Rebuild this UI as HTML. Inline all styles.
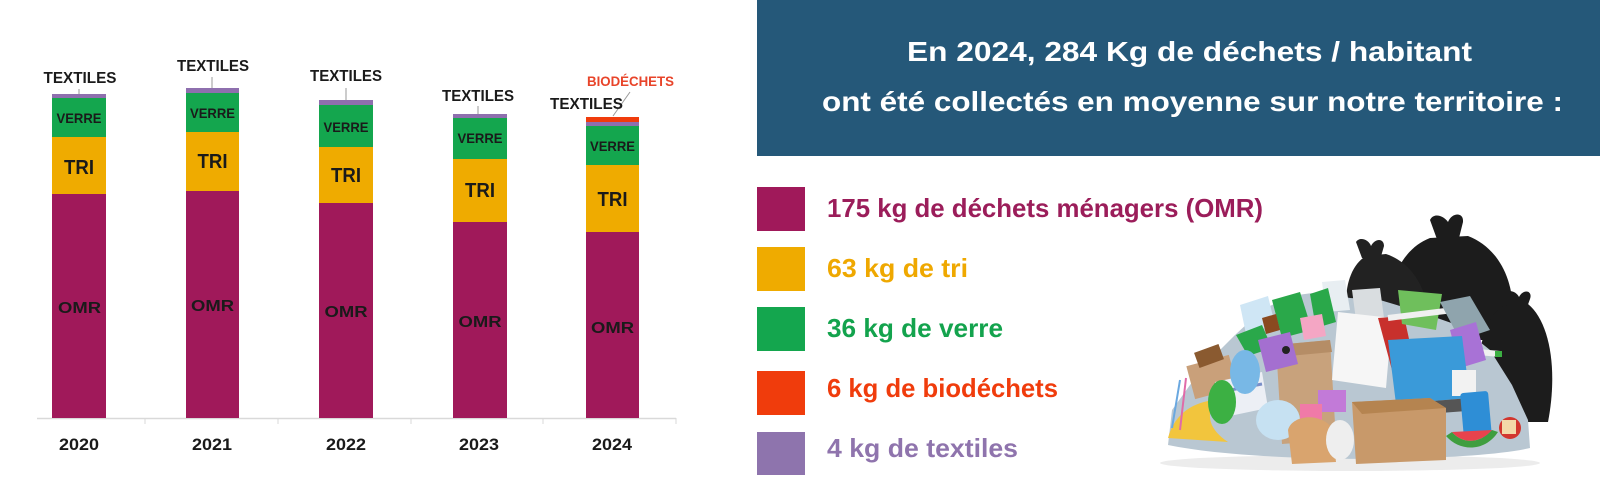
<!DOCTYPE html>
<html><head><meta charset="utf-8"><style>
html,body{margin:0;padding:0;background:#fff;}
svg{display:block;}
text{font-family:"Liberation Sans",sans-serif;font-weight:bold;}
</style></head><body>
<svg width="1600" height="500" viewBox="0 0 1600 500" xmlns="http://www.w3.org/2000/svg">
<rect width="1600" height="500" fill="#fff"/>

<!-- axis -->
<line x1="37" y1="418.5" x2="676" y2="418.5" stroke="#d9d9d9" stroke-width="1.5"/>
<g stroke="#d9d9d9" stroke-width="1">
<line x1="145" y1="418" x2="145" y2="424"/><line x1="278" y1="418" x2="278" y2="424"/>
<line x1="411" y1="418" x2="411" y2="424"/><line x1="543" y1="418" x2="543" y2="424"/>
<line x1="676" y1="418" x2="676" y2="424"/>
</g>

<!-- bars -->
<g>
<rect x="52" y="94" width="54" height="4" fill="#8e6fae"/>
<rect x="52" y="98" width="54" height="39" fill="#14a64e"/>
<rect x="52" y="137" width="54" height="57" fill="#efab00"/>
<rect x="52" y="194" width="54" height="224" fill="#a0195a"/>

<rect x="186" y="88" width="53" height="5" fill="#8e6fae"/>
<rect x="186" y="93" width="53" height="39" fill="#14a64e"/>
<rect x="186" y="132" width="53" height="59" fill="#efab00"/>
<rect x="186" y="191" width="53" height="227" fill="#a0195a"/>

<rect x="319" y="100" width="54" height="5" fill="#8e6fae"/>
<rect x="319" y="105" width="54" height="42" fill="#14a64e"/>
<rect x="319" y="147" width="54" height="56" fill="#efab00"/>
<rect x="319" y="203" width="54" height="215" fill="#a0195a"/>

<rect x="453" y="114" width="54" height="4" fill="#8e6fae"/>
<rect x="453" y="118" width="54" height="41" fill="#14a64e"/>
<rect x="453" y="159" width="54" height="63" fill="#efab00"/>
<rect x="453" y="222" width="54" height="196" fill="#a0195a"/>

<rect x="586" y="117" width="53" height="5" fill="#f03c0c"/>
<rect x="586" y="122" width="53" height="4" fill="#8e6fae"/>
<rect x="586" y="126" width="53" height="39" fill="#14a64e"/>
<rect x="586" y="165" width="53" height="67" fill="#efab00"/>
<rect x="586" y="232" width="53" height="186" fill="#a0195a"/>
</g>

<!-- in-bar labels -->
<g fill="#1a1a1a" text-anchor="middle">
<text x="79" y="123" font-size="14" textLength="45" lengthAdjust="spacingAndGlyphs">VERRE</text>
<text x="79" y="174" font-size="20" textLength="30" lengthAdjust="spacingAndGlyphs">TRI</text>
<text x="79.5" y="313" font-size="16" textLength="43" lengthAdjust="spacingAndGlyphs">OMR</text>

<text x="212.5" y="118" font-size="14" textLength="45" lengthAdjust="spacingAndGlyphs">VERRE</text>
<text x="212.5" y="168" font-size="20" textLength="30" lengthAdjust="spacingAndGlyphs">TRI</text>
<text x="212.5" y="311" font-size="16" textLength="43" lengthAdjust="spacingAndGlyphs">OMR</text>

<text x="346" y="132" font-size="14" textLength="45" lengthAdjust="spacingAndGlyphs">VERRE</text>
<text x="346" y="182" font-size="20" textLength="30" lengthAdjust="spacingAndGlyphs">TRI</text>
<text x="346" y="317" font-size="16" textLength="43" lengthAdjust="spacingAndGlyphs">OMR</text>

<text x="480" y="143" font-size="14" textLength="45" lengthAdjust="spacingAndGlyphs">VERRE</text>
<text x="480" y="197" font-size="20" textLength="30" lengthAdjust="spacingAndGlyphs">TRI</text>
<text x="480" y="327" font-size="16" textLength="43" lengthAdjust="spacingAndGlyphs">OMR</text>

<text x="612.5" y="151" font-size="14" textLength="45" lengthAdjust="spacingAndGlyphs">VERRE</text>
<text x="612.5" y="206" font-size="20" textLength="30" lengthAdjust="spacingAndGlyphs">TRI</text>
<text x="612.5" y="333" font-size="16" textLength="43" lengthAdjust="spacingAndGlyphs">OMR</text>
</g>

<!-- leader lines -->
<g stroke="#9a9a9a" stroke-width="1">
<line x1="79" y1="89" x2="79" y2="94"/>
<line x1="212" y1="77" x2="212" y2="88"/>
<line x1="346" y1="88" x2="346" y2="100"/>
<line x1="478" y1="106" x2="478" y2="114"/>
<line x1="630" y1="92" x2="613" y2="116"/>
</g>

<!-- top labels -->
<g fill="#1a1a1a" text-anchor="middle" font-size="16">
<text x="80" y="83" textLength="73" lengthAdjust="spacingAndGlyphs">TEXTILES</text>
<text x="213" y="71" textLength="72" lengthAdjust="spacingAndGlyphs">TEXTILES</text>
<text x="346" y="81" textLength="72" lengthAdjust="spacingAndGlyphs">TEXTILES</text>
<text x="478" y="101" textLength="72" lengthAdjust="spacingAndGlyphs">TEXTILES</text>
<text x="586.5" y="109" textLength="73" lengthAdjust="spacingAndGlyphs">TEXTILES</text>
</g>
<text x="630.5" y="86" text-anchor="middle" font-size="14" fill="#e8442a" textLength="87" lengthAdjust="spacingAndGlyphs">BIODÉCHETS</text>

<!-- year labels -->
<g fill="#1a1a1a" text-anchor="middle" font-size="17">
<text x="79" y="450" textLength="40" lengthAdjust="spacingAndGlyphs">2020</text>
<text x="212" y="450" textLength="40" lengthAdjust="spacingAndGlyphs">2021</text>
<text x="346" y="450" textLength="40" lengthAdjust="spacingAndGlyphs">2022</text>
<text x="479" y="450" textLength="40" lengthAdjust="spacingAndGlyphs">2023</text>
<text x="612" y="450" textLength="40" lengthAdjust="spacingAndGlyphs">2024</text>
</g>

<!-- header box -->
<rect x="757" y="0" width="843" height="156" fill="#255879"/>
<g fill="#fff" font-size="28">
<text x="907" y="61" textLength="565" lengthAdjust="spacingAndGlyphs">En 2024, 284 Kg de déchets / habitant</text>
<text x="822" y="111" textLength="741" lengthAdjust="spacingAndGlyphs">ont été collectés en moyenne sur notre territoire :</text>
</g>

<!-- legend -->
<rect x="757" y="187" width="48" height="44" fill="#a0195a"/>
<rect x="757" y="247" width="48" height="44" fill="#efab00"/>
<rect x="757" y="307" width="48" height="44" fill="#14a64e"/>
<rect x="757" y="371" width="48" height="44" fill="#f03c0c"/>
<rect x="757" y="432" width="48" height="43" fill="#8e74ad"/>
<g font-size="26">
<text x="827" y="217" fill="#9b1d5a" textLength="436" lengthAdjust="spacingAndGlyphs">175 kg de déchets ménagers (OMR)</text>
<text x="827" y="277" fill="#efa800" textLength="141" lengthAdjust="spacingAndGlyphs">63 kg de tri</text>
<text x="827" y="337" fill="#13a34d" textLength="176" lengthAdjust="spacingAndGlyphs">36 kg de verre</text>
<text x="827" y="397" fill="#f03c0c" textLength="231" lengthAdjust="spacingAndGlyphs">6 kg de biodéchets</text>
<text x="827" y="457" fill="#8f74ad" textLength="191" lengthAdjust="spacingAndGlyphs">4 kg de textiles</text>
</g>

<!-- trash pile illustration -->
<g>
<ellipse cx="1350" cy="463" rx="190" ry="8" fill="#ececec"/>
<!-- big black bag -->
<path d="M1430,238 C1394,252 1382,300 1392,340 L1510,340 C1520,292 1504,250 1468,236 Z" fill="#1c1c1c"/>
<path d="M1438,242 L1430,220 C1434,212 1444,216 1448,222 C1452,212 1464,212 1463,222 L1458,242 Z" fill="#1c1c1c"/>
<!-- left black bag -->
<path d="M1366,256 C1346,268 1342,302 1350,325 L1428,325 C1430,296 1416,264 1386,254 Z" fill="#222"/>
<path d="M1362,258 L1356,242 C1360,236 1369,240 1371,246 C1375,238 1384,238 1384,246 L1380,260 Z" fill="#222"/>
<!-- right black bag -->
<path d="M1503,306 C1480,320 1475,362 1480,422 L1548,422 C1558,370 1550,322 1528,304 Z" fill="#1c1c1c"/>
<path d="M1508,308 L1503,294 C1508,288 1517,292 1519,297 C1524,288 1533,291 1530,299 L1526,310 Z" fill="#1c1c1c"/>
<!-- base pile (irregular, mid tone) -->
<path d="M1168,445 L1172,410 L1190,385 L1210,360 L1235,335 L1262,310 L1290,296 L1320,292 L1350,298 L1380,300 L1420,312 L1460,326 L1490,350 L1512,385 L1528,420 L1530,448 C1470,462 1260,464 1168,445 Z" fill="#b9c7d2"/>
<!-- light bottles at top left -->
<path d="M1240,305 L1268,296 L1275,325 L1246,334 Z" fill="#cfe6f5"/>
<path d="M1322,282 L1345,280 L1350,310 L1326,312 Z" fill="#e8eef2"/>
<path d="M1352,290 L1380,288 L1384,318 L1356,320 Z" fill="#d9dde0"/>
<!-- cardboard left -->
<rect x="1190" y="360" width="44" height="34" fill="#c9a07a" transform="rotate(-15 1212 377)"/>
<rect x="1196" y="348" width="26" height="16" fill="#8a5a30" transform="rotate(-20 1209 356)"/>
<!-- newspaper -->
<path d="M1215,382 L1262,372 L1268,408 L1220,418 Z" fill="#eceff5"/>
<line x1="1220" y1="392" x2="1262" y2="384" stroke="#7a8fc8" stroke-width="3"/>
<!-- paper bag -->
<path d="M1276,345 L1330,340 L1336,440 L1282,444 Z" fill="#c8a27c"/>
<path d="M1276,345 L1330,340 L1332,352 L1278,357 Z" fill="#b58d66"/>
<!-- green bottles -->
<path d="M1272,300 L1300,292 L1312,330 L1282,338 Z" fill="#2aa84a"/>
<path d="M1310,294 L1328,288 L1336,322 L1316,328 Z" fill="#2aa84a"/>
<path d="M1236,335 L1262,325 L1272,348 L1248,356 Z" fill="#2aa84a"/>
<path d="M1300,318 L1322,314 L1326,336 L1304,340 Z" fill="#f4a6c4"/>
<path d="M1262,318 L1276,314 L1280,330 L1266,334 Z" fill="#8a4a20"/>
<!-- purple spray -->
<path d="M1258,340 L1290,332 L1298,364 L1266,372 Z" fill="#a46fd0"/>
<circle cx="1286" cy="350" r="4" fill="#222"/>
<!-- blue bottle -->
<ellipse cx="1245" cy="372" rx="15" ry="22" fill="#78b8e6"/>
<!-- white paper -->
<path d="M1338,312 L1392,318 L1386,388 L1332,380 Z" fill="#f6f6f6"/>
<!-- red item -->
<path d="M1378,318 L1404,316 L1414,362 L1392,370 Z" fill="#c8302c"/>
<!-- green folder / pens -->
<path d="M1398,290 L1442,294 L1436,330 L1402,324 Z" fill="#6fbf5c"/>
<line x1="1388" y1="318" x2="1470" y2="308" stroke="#f0f0f0" stroke-width="6"/>
<line x1="1465" y1="309" x2="1472" y2="308" stroke="#3cb043" stroke-width="6"/>
<line x1="1412" y1="346" x2="1500" y2="354" stroke="#f0f0f0" stroke-width="6"/>
<line x1="1495" y1="354" x2="1502" y2="354" stroke="#3cb043" stroke-width="6"/>
<!-- grey glass sheet -->
<path d="M1440,302 L1470,296 L1490,330 L1460,340 Z" fill="#8fa4ad"/>
<!-- purple bottle -->
<path d="M1450,330 L1476,322 L1486,360 L1460,368 Z" fill="#a872d6"/>
<!-- laptop -->
<path d="M1388,340 L1462,336 L1470,398 L1396,404 Z" fill="#3a9ad9"/>
<path d="M1396,404 L1470,398 L1480,410 L1400,416 Z" fill="#555"/>
<!-- bulb -->
<rect x="1452" y="370" width="24" height="26" fill="#f2f2f2"/>
<!-- yellow banana -->
<path d="M1168,438 C1175,412 1195,402 1215,400 C1205,416 1210,430 1228,442 Z" fill="#f2c53d"/>
<!-- leaf -->
<ellipse cx="1222" cy="402" rx="14" ry="22" fill="#3cb043"/>
<!-- straws -->
<line x1="1180" y1="380" x2="1172" y2="428" stroke="#6aa8e0" stroke-width="2"/>
<line x1="1186" y1="378" x2="1180" y2="430" stroke="#e06aa8" stroke-width="2"/>
<!-- glass jar -->
<ellipse cx="1278" cy="420" rx="22" ry="20" fill="#c6e1f2"/>
<!-- pink/purple notes -->
<rect x="1318" y="390" width="28" height="22" fill="#c27ad8"/>
<rect x="1300" y="404" width="22" height="18" fill="#f07aa8"/>
<!-- bread -->
<path d="M1288,430 C1292,415 1320,412 1332,428 L1336,462 L1292,464 Z" fill="#d9a46e"/>
<!-- white crumpled -->
<ellipse cx="1340" cy="440" rx="14" ry="20" fill="#eeeeee"/>
<!-- cardboard box -->
<path d="M1352,402 L1430,398 L1446,408 L1446,460 L1356,464 Z" fill="#c8996a"/>
<path d="M1352,402 L1430,398 L1446,408 L1362,414 Z" fill="#b58450"/>
<!-- phone -->
<rect x="1462" y="392" width="28" height="46" rx="3" fill="#2e8ed6" transform="rotate(-5 1476 415)"/>
<!-- watermelon -->
<path d="M1446,436 C1460,452 1485,452 1498,432 L1492,430 C1480,444 1462,444 1452,432 Z" fill="#3f9e3f"/>
<path d="M1452,432 C1462,444 1480,444 1492,430 Z" fill="#e8434d"/>
<!-- apple -->
<circle cx="1510" cy="428" r="11" fill="#d2362e"/>
<rect x="1502" y="420" width="14" height="14" fill="#f3d9a8"/>
</g>
</svg>
</body></html>
